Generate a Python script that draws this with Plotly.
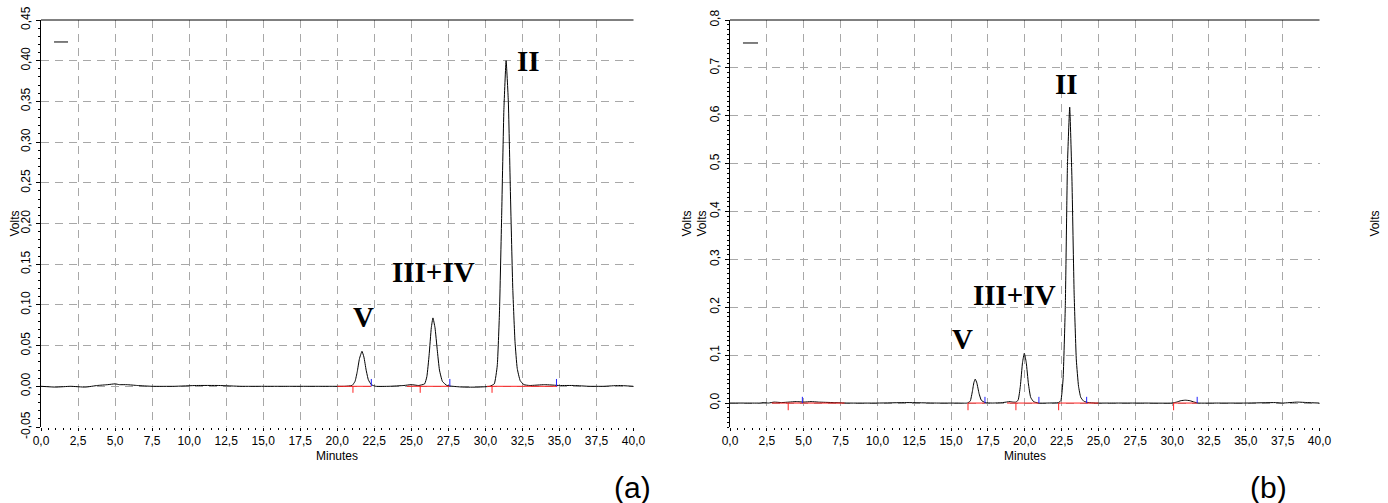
import plotly.graph_objects as go

# ---------------- data ----------------
# Panel (a) chromatogram
a_time = [0.0, 1.0, 2.0, 3.0, 3.8, 4.5, 5.0, 5.3, 5.8, 6.5,
          7.5, 9.0, 10.5, 12.0, 13.5, 15.0, 16.5, 18.0, 19.5, 20.5,
          21.0, 21.2, 21.35, 21.5, 21.67, 21.8, 21.95, 22.1, 22.3, 22.6,
          23.5, 24.5, 25.0, 25.5, 25.9, 26.05, 26.2, 26.35, 26.46, 26.6,
          26.75, 26.9, 27.1, 27.4, 27.8, 28.5, 29.5, 30.3, 30.6, 30.8,
          30.95, 31.1, 31.25, 31.4, 31.55, 31.7, 31.85, 32.0, 32.15, 32.35,
          32.6, 33.0, 34.0, 35.0, 36.0, 37.0, 38.0, 39.0, 40.0]
a_volts = [0.000, -0.001, 0.000, -0.001, 0.001, 0.002, 0.003, 0.002, 0.002, 0.001,
           0.000, 0.000, 0.001, 0.001, 0.000, 0.000, 0.000, 0.000, 0.000, 0.000,
           0.001, 0.006, 0.018, 0.034, 0.043, 0.036, 0.020, 0.008, 0.002, 0.000,
           0.000, 0.001, 0.002, 0.001, 0.003, 0.012, 0.038, 0.072, 0.084, 0.072,
           0.045, 0.020, 0.006, 0.001, 0.000, -0.001, -0.001, 0.000, 0.003, 0.025,
           0.090, 0.210, 0.340, 0.400, 0.350, 0.230, 0.120, 0.055, 0.022, 0.007,
           0.002, 0.001, 0.002, 0.001, 0.001, 0.000, 0.000, 0.001, 0.000]

# Panel (b) chromatogram
b_time = [0.0, 1.0, 2.0, 2.3, 2.6, 3.0, 3.5, 4.0, 4.5, 5.0,
          5.5, 6.0, 7.0, 8.0, 10.0, 12.0, 14.0, 15.5, 16.1, 16.3,
          16.45, 16.55, 16.64, 16.75, 16.9, 17.05, 17.3, 17.8, 18.5, 19.0,
          19.2, 19.4, 19.55, 19.7, 19.85, 19.97, 20.1, 20.25, 20.4, 20.6,
          20.9, 21.5, 22.3, 22.45, 22.6, 22.75, 22.9, 23.05, 23.2, 23.35,
          23.5, 23.65, 23.8, 24.0, 24.3, 24.8, 26.0, 28.0, 30.0, 30.3,
          30.6, 30.9, 31.2, 31.5, 31.8, 33.0, 35.0, 37.0, 37.5, 38.5,
          39.2, 40.0]
b_volts = [0.000, 0.000, 0.000, 0.001, 0.000, 0.002, 0.001, 0.002, 0.003, 0.002,
           0.003, 0.002, 0.001, 0.000, 0.000, 0.001, 0.000, 0.000, 0.000, 0.004,
           0.025, 0.043, 0.050, 0.042, 0.020, 0.006, 0.001, 0.000, 0.001, 0.003,
           0.002, 0.002, 0.006, 0.035, 0.085, 0.104, 0.085, 0.040, 0.012, 0.003,
           0.000, 0.000, 0.001, 0.005, 0.050, 0.200, 0.500, 0.618, 0.470, 0.230,
           0.090, 0.035, 0.012, 0.004, 0.001, 0.000, 0.000, 0.000, 0.000, 0.002,
           0.005, 0.006, 0.005, 0.002, 0.000, 0.000, 0.000, 0.001, 0.000, 0.002,
           0.001, 0.000]

# integration markers (minutes)
a_red_ticks = [21.06, 25.6, 30.45]
a_blue_ticks = [22.3, 27.6, 34.8]
a_red_start = [20.0, 24.7, 30.1]
a_red_end = [22.3, 27.6, 34.85]

b_red_ticks = [3.95, 16.15, 19.4, 22.3, 30.1]
b_blue_ticks = [4.91, 17.3, 20.96, 24.2, 31.7]
b_red_start = [2.83, 16.15, 18.8, 22.3, 30.1]
b_red_end = [7.77, 17.3, 20.96, 25.0, 31.7]

# peak names
peak_names = ["V", "III+IV", "II"]

# tick labels
x_tick_vals = [0.0, 2.5, 5.0, 7.5, 10.0, 12.5, 15.0, 17.5, 20.0, 22.5,
               25.0, 27.5, 30.0, 32.5, 35.0, 37.5, 40.0]
x_tick_text = ["0,0", "2,5", "5,0", "7,5", "10,0", "12,5", "15,0", "17,5", "20,0",
               "22,5", "25,0", "27,5", "30,0", "32,5", "35,0", "37,5", "40,0"]
a_y_tick_vals = [-0.05, 0.0, 0.05, 0.10, 0.15, 0.20, 0.25, 0.30, 0.35, 0.40, 0.45]
a_y_tick_text = ["-0,05", "0,00", "0,05", "0,10", "0,15", "0,20", "0,25",
                 "0,30", "0,35", "0,40", "0,45"]
b_y_tick_vals = [0.0, 0.1, 0.2, 0.3, 0.4, 0.5, 0.6, 0.7, 0.8]
b_y_tick_text = ["0,0", "0,1", "0,2", "0,3", "0,4", "0,5", "0,6", "0,7", "0,8"]

# ---------------- layout constants ----------------
W, H = 1388, 503
A_L, A_R = 41, 633.5
B_L, B_R = 730, 1319.5
TOP, BOT = 20, 427
YDOM = [1 - BOT / H, 1 - TOP / H]
FONT = "Liberation Sans, Arial, sans-serif"
GRID = "#a8a8a8"
GDASH = "8px,6px"


def seg_lines(starts, ends, level):
    xs, ys = [], []
    for s, e in zip(starts, ends):
        xs += [s, e, None]
        ys += [level, level, None]
    return xs, ys


def tick_lines(times, base, length):
    xs, ys = [], []
    for t in times:
        xs += [t, t, None]
        ys += [base, base + length, None]
    return xs, ys


fig = go.Figure()

panels = [
    dict(t=a_time, v=a_volts, rt=a_red_ticks, bt=a_blue_ticks, rs=a_red_start, re=a_red_end,
         xa="x", ya="y", rlen=-0.008, blen=0.009),
    dict(t=b_time, v=b_volts, rt=b_red_ticks, bt=b_blue_ticks, rs=b_red_start, re=b_red_end,
         xa="x2", ya="y2", rlen=-0.015, blen=0.013),
]

for p in panels:
    fig.add_trace(go.Scatter(x=p["t"], y=p["v"], mode="lines",
                             line=dict(color="black", width=1, shape="spline", smoothing=0.4),
                             xaxis=p["xa"], yaxis=p["ya"], hoverinfo="skip"))
    sx, sy = seg_lines(p["rs"], p["re"], 0.0)
    fig.add_trace(go.Scatter(x=sx, y=sy, mode="lines", line=dict(color="#ff2020", width=1),
                             xaxis=p["xa"], yaxis=p["ya"], hoverinfo="skip"))
    rx, ry = tick_lines(p["rt"], 0.0, p["rlen"])
    fig.add_trace(go.Scatter(x=rx, y=ry, mode="lines", line=dict(color="#ff2020", width=1),
                             xaxis=p["xa"], yaxis=p["ya"], hoverinfo="skip"))
    bx, by = tick_lines(p["bt"], 0.0, p["blen"])
    fig.add_trace(go.Scatter(x=bx, y=by, mode="lines", line=dict(color="#2020ff", width=1),
                             xaxis=p["xa"], yaxis=p["ya"], hoverinfo="skip"))

tickfont = dict(family=FONT, size=12, color="black")


def xaxis_cfg(l, r, anchor):
    return dict(domain=[l / W, r / W], range=[0, 40], anchor=anchor, automargin=False,
                tickmode="array", tickvals=x_tick_vals, ticktext=x_tick_text,
                ticks="outside", ticklen=3, tickcolor="black", tickwidth=1,
                minor=dict(ticks="outside", ticklen=2, tickcolor="black", tickmode="linear",
                           tick0=0, dtick=0.5, showgrid=False),
                showgrid=True, gridcolor=GRID, griddash=GDASH, gridwidth=1,
                showline=False, zeroline=False, tickfont=tickfont, fixedrange=True,
                ticklabelstandoff=0)


def yaxis_cfg(rng, vals, text, anchor, angle, side="left", overlay=None, grid=True):
    d = dict(domain=YDOM, range=rng, anchor=anchor, side=side, automargin=False,
             tickmode="array", tickvals=vals, ticktext=text, tickangle=angle,
             ticks="outside", ticklen=4, tickcolor="black", tickwidth=1,
             minor=dict(ticks="outside", ticklen=2, tickcolor="black", tickmode="linear",
                        tick0=0, dtick=0.01, showgrid=False),
             showgrid=grid, gridcolor=GRID, griddash=GDASH, gridwidth=1,
             showline=True, linecolor="black", linewidth=1, mirror=False,
             zeroline=False, tickfont=tickfont, fixedrange=True, ticklabelstandoff=1)
    if overlay:
        d["overlaying"] = overlay
    return d


fig.update_layout(
    width=W, height=H, margin=dict(l=0, r=0, t=0, b=0, autoexpand=False),
    paper_bgcolor="white", plot_bgcolor="white", showlegend=False,
    xaxis=xaxis_cfg(A_L, A_R, "y"),
    xaxis2=xaxis_cfg(B_L, B_R, "y2"),
    yaxis=yaxis_cfg([-0.05, 0.45], a_y_tick_vals, a_y_tick_text, "x", -90),
    yaxis2=yaxis_cfg([-0.05, 0.8], b_y_tick_vals, b_y_tick_text, "x2", -90),
    yaxis3=yaxis_cfg([-0.05, 0.45], a_y_tick_vals, a_y_tick_text, "x", 0,
                     side="right", overlay="y", grid=False),
    yaxis4=yaxis_cfg([-0.05, 0.8], b_y_tick_vals, b_y_tick_text, "x2", 0,
                     side="right", overlay="y2", grid=False),
)

# top borders and small legend lines
shapes = []
for xr, yr, lx0, lx1, ly in [("x", "y", 0.022, 0.0456, 0.946), ("x2", "y2", 0.022, 0.0475, 0.9435)]:
    shapes.append(dict(type="line", xref=f"{xr} domain", yref=f"{yr} domain",
                       x0=0, x1=1, y0=1, y1=1, line=dict(color="black", width=1)))
    shapes.append(dict(type="line", xref=f"{xr} domain", yref=f"{yr} domain",
                       x0=lx0, x1=lx1, y0=ly, y1=ly, line=dict(color="black", width=1)))
fig.update_layout(shapes=shapes)

CM = dict(xanchor="center", yanchor="middle", showarrow=False)

# peak labels (positions in data units)
a_label_pos = [(21.76, 0.0856), (26.5, 0.141), (32.9, 0.400)]
b_label_pos = [(15.76, 0.133), (19.29, 0.226), (22.8, 0.667)]
ann = []
for name, (x, y) in zip(peak_names, a_label_pos):
    ann.append(dict(x=x, y=y, xref="x", yref="y", text=name, **CM,
                    font=dict(family="Liberation Serif, Times New Roman, serif", size=29,
                              color="black", weight="bold")))
for name, (x, y) in zip(peak_names, b_label_pos):
    ann.append(dict(x=x, y=y, xref="x2", yref="y2", text=name, **CM,
                    font=dict(family="Liberation Serif, Times New Roman, serif", size=29,
                              color="black", weight="bold")))

ymid = 1 - ((TOP + BOT) / 2) / H
for xpix in [15, 687, 702, 1375]:
    ann.append(dict(x=xpix / W, y=ymid, xref="paper", yref="paper", text="Volts",
                    textangle=-90, **CM,
                    font=dict(family=FONT, size=12, color="black")))
for xpix in [(A_L + A_R) / 2, (B_L + B_R) / 2]:
    ann.append(dict(x=xpix / W, y=1 - 456 / H, xref="paper", yref="paper", text="Minutes",
                    **CM, font=dict(family=FONT, size=12, color="black")))
for txt, xpix in [("(a)", 632), ("(b)", 1268)]:
    ann.append(dict(x=xpix / W, y=1 - 487 / H, xref="paper", yref="paper", text=txt,
                    **CM, font=dict(family=FONT, size=30, color="black")))
fig.update_layout(annotations=ann)

fig.write_html("out.html", config={"displayModeBar": False},
               post_script="document.body.style.margin='0';document.body.style.overflow='hidden';")
